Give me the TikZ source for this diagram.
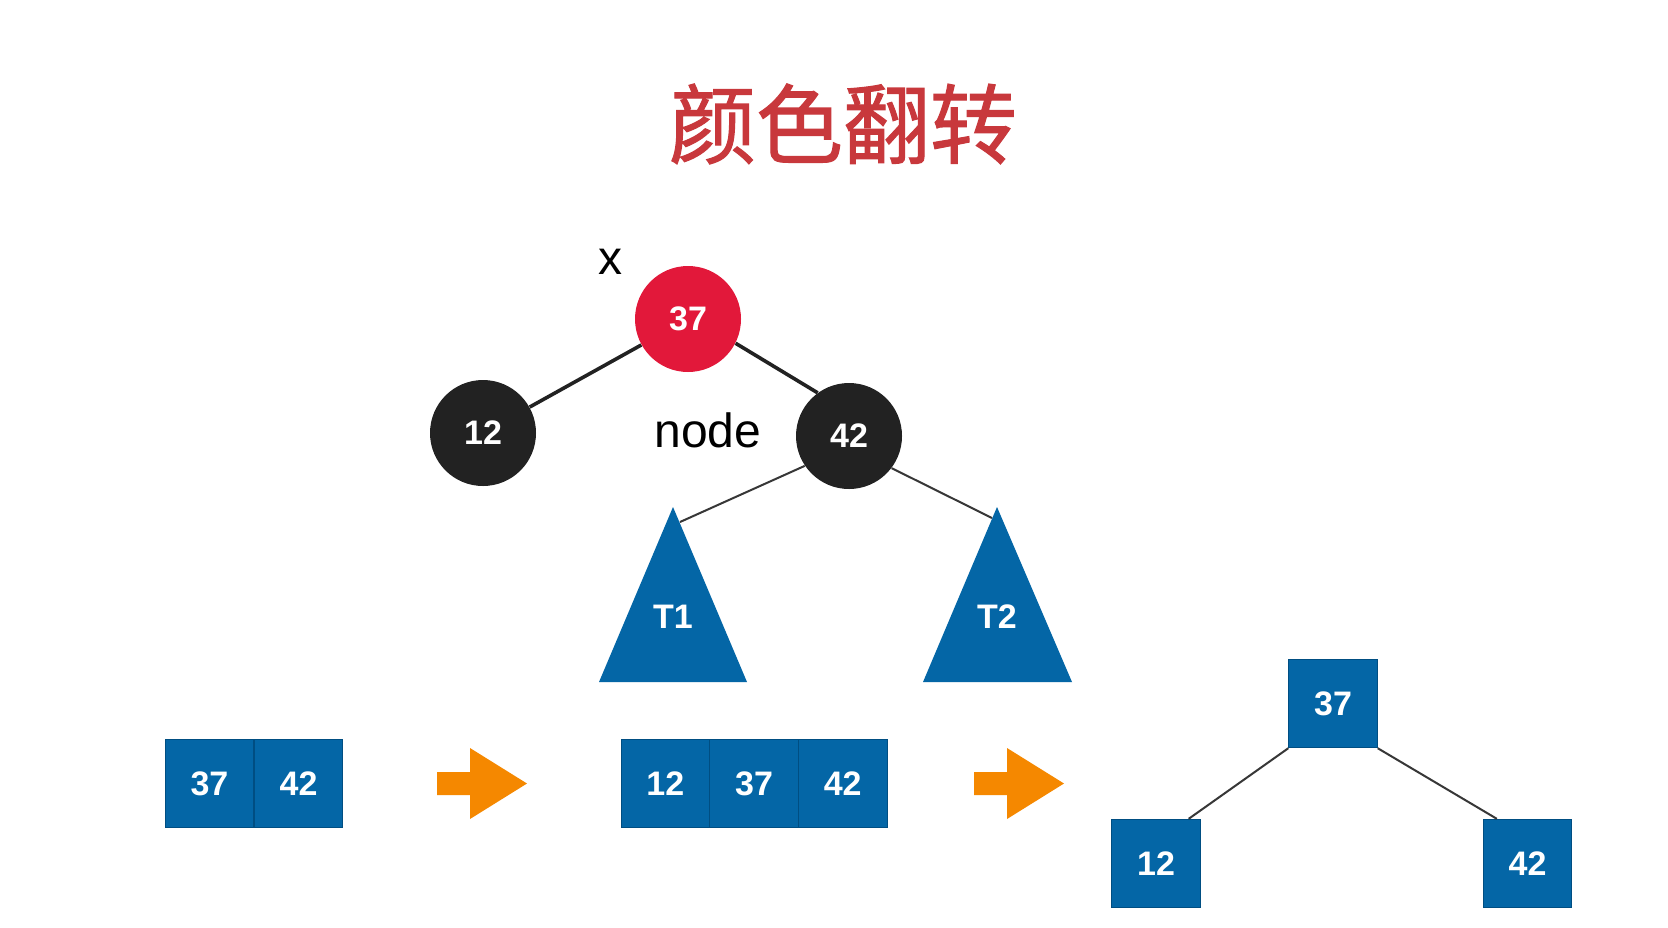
\documentclass[tikz,border=0pt]{standalone}
\usepackage{fontspec}
\setmainfont{Liberation Sans}
\newfontfamily\cjk[FakeBold=1.2]{Noto Sans CJK SC}
\definecolor{rbred}{RGB}{226,24,58}
\definecolor{rbblack}{RGB}{34,34,34}
\definecolor{tblue}{RGB}{4,102,166}
\definecolor{tbluedark}{RGB}{0,78,130}
\definecolor{aorange}{RGB}{245,136,0}
\definecolor{ttlred}{RGB}{200,56,60}
\definecolor{edgegray}{RGB}{55,55,55}
\begin{document}
\begin{tikzpicture}[x=0.5pt,y=-0.5pt,
  numfont/.style={font=\fontsize{17}{17}\selectfont\bfseries},
  rbnode/.style={circle,inner sep=0pt,minimum size=53pt,text=white,numfont},
  rednode/.style={rbnode,fill=rbred},
  blknode/.style={rbnode,fill=rbblack},
  cell/.style={rectangle,inner sep=0pt,minimum size=44.3pt,fill=tblue,draw=tbluedark,line width=0.4pt,text=white,numfont},
  tlabel/.style={text=white,numfont,inner sep=0pt},
  thickedge/.style={draw=rbblack,line width=1.8pt},
  thinedge/.style={draw=edgegray,line width=1pt},
  subtree/.style={fill=tblue},
  blockarrow/.style={fill=aorange},
  lbl/.style={font=\fontsize{24}{24}\selectfont,inner sep=0pt}
]
\useasboundingbox (0,0) rectangle (1668,927);
\fill[white] (0,0) rectangle (1668,927);

% title
\node[anchor=base,text=ttlred,inner sep=0pt,font=\cjk\fontsize{43.5}{43.5}\selectfont] (title) at (843,157) {颜色翻转};

% red-black tree
\node[rednode] (n37) at (688,319) {37};
\node[blknode] (n12) at (483,433) {12};
\node[blknode] (n42) at (849,436) {42};
\node[lbl] (xl) at (610,262) {x};
\node[lbl,anchor=base] (nodel) at (708,447) {node};
\draw[thickedge] (n37) -- (n12);
\draw[thickedge] (n37.-27) -- (n42.126);

\coordinate (t1apex) at (673,507);
\coordinate (t2apex) at (997,507);
\coordinate (t1end) at (680,522);
\coordinate (t2end) at (992,518);
\draw[thinedge] (n42.-146) -- (t1end);
\draw[thinedge] (n42.-37) -- (t2end);
\fill[subtree] (599,682) -- (t1apex) -- (747,682) -- cycle;
\fill[subtree] (923,682) -- (t2apex) -- (1072,682) -- cycle;
\node[tlabel] (T1) at (673,617) {T1};
\node[tlabel] (T2) at (997,617) {T2};

% bottom row: 2-node
\node[cell] (a37) at (209.5,783.5) {37};
\node[cell] (a42) at (298.5,783.5) {42};

% arrows
\fill[blockarrow] (437,772) -- (470,772) -- (470,748) -- (527,783.5) -- (470,819) -- (470,795) -- (437,795) -- cycle;
\fill[blockarrow] (974,772) -- (1007,772) -- (1007,748) -- (1064,783.5) -- (1007,819) -- (1007,795) -- (974,795) -- cycle;

% 3-node
\node[cell] (b12) at (665.3,783.5) {12};
\node[cell] (b37) at (754,783.5) {37};
\node[cell] (b42) at (842.7,783.5) {42};

% split tree
\node[cell] (c37) at (1333,703.5) {37};
\node[cell] (c12) at (1156,863.5) {12};
\node[cell] (c42) at (1527.5,863.5) {42};
\draw[thinedge] (c37.south west) -- ([xshift=-6pt]c12.north east);
\draw[thinedge] (c37.south east) -- ([xshift=7pt]c42.north west);
\end{tikzpicture}
\end{document}
